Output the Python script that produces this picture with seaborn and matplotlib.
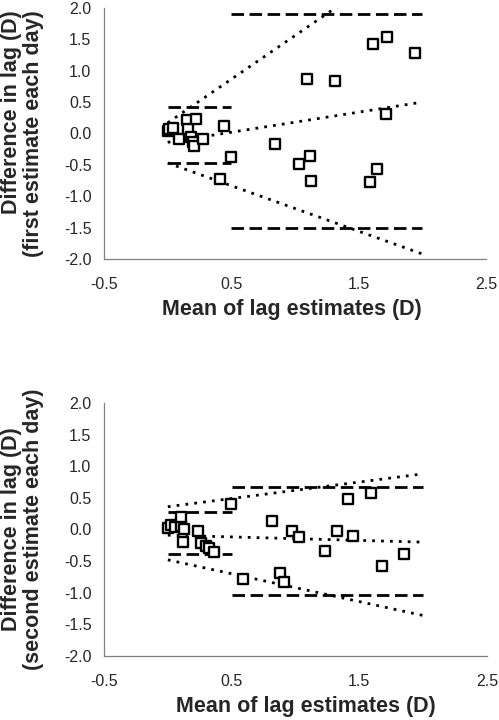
"""
Bland-Altman style plots of lag estimates (first / second estimate each day).
"""

import numpy as np
import pandas as pd
import matplotlib
matplotlib.use("Agg")
import matplotlib.pyplot as plt
import seaborn as sns

# --- data: first estimate each day (top panel) ---
first_mean = [0.005, 0.013, 0.04, 0.091, 0.154, 0.162, 0.181, 0.197, 0.209, 0.223,
              0.275, 0.443, 0.495, 0.415, 0.845, 1.032, 1.092, 1.118, 1.129, 1.312,
              1.59, 1.616, 1.643, 1.711, 1.721, 1.944]
first_diff = [0.035, 0.078, 0.08, -0.08, 0.21, 0.067, -0.056, -0.136, -0.2, 0.238,
              -0.08, 0.12, -0.37, -0.73, -0.173, -0.487, 0.866, -0.354, -0.759, 0.844,
              -0.78, 1.43, -0.573, 0.312, 1.53, 1.276]

# --- data: second estimate each day (bottom panel) ---
second_mean = [0.001, 0.028, 0.054, 0.106, 0.106, 0.127, 0.236, 0.119, 0.263, 0.296,
               0.322, 0.359, 0.492, 0.586, 0.816, 0.881, 0.907, 0.973, 1.025, 1.228,
               1.325, 1.411, 1.448, 1.594, 1.678, 1.847]
second_diff = [0.019, 0.071, 0.045, 0.056, 0.203, 0.003, -0.019, -0.193, -0.209, -0.261,
               -0.298, -0.352, 0.404, -0.79, 0.14, -0.695, -0.827, -0.024, -0.124, -0.34,
               -0.019, 0.483, -0.098, 0.584, -0.573, -0.388]

# regression lines (dotted), evaluated at the ends of the range
line_x = [0.0, 2.0]
first_bias = [-0.14, 0.50]
first_upper = [0.17, 2.95]
first_lower = [-0.47, -1.92]
second_bias = [-0.09, -0.20]
second_upper = [0.36, 0.88]
second_lower = [-0.48, -1.36]

# 95% limits of agreement (dashed), low range and high range
low_x = [0.0, 0.5]
high_x = [0.5, 2.0]
first_low_limits = [0.42, -0.466]
first_high_limits = [1.91, -1.505]
second_low_limits = [0.272, -0.383]
second_high_limits = [0.668, -1.028]

yticks = [-2.0, -1.5, -1.0, -0.5, 0.0, 0.5, 1.0, 1.5, 2.0]
xticks = [-0.5, 0.5, 1.5, 2.5]

sns.set_style("white")
plt.rcParams["font.family"] = ["Liberation Sans", "DejaVu Sans"]
plt.rcParams["axes.unicode_minus"] = False

DASHED = (0, (4.5, 2.0))
DOTTED = (0, (1.0, 2.2))


def draw_panel(ax, mean, diff, bias, upper, lower, low_lim, high_lim, ylabel, ymult, xlab_x):
    for yy in (bias, upper, lower):
        sns.lineplot(x=line_x, y=yy, ax=ax, color="black", linewidth=2.0,
                     linestyle=DOTTED, estimator=None, sort=False)
    for lim in low_lim:
        sns.lineplot(x=low_x, y=[lim, lim], ax=ax, color="black", linewidth=2.0,
                     linestyle=DASHED, estimator=None, sort=False)
    for lim in high_lim:
        sns.lineplot(x=high_x, y=[lim, lim], ax=ax, color="black", linewidth=2.0,
                     linestyle=DASHED, estimator=None, sort=False)

    df = pd.DataFrame({"mean": mean, "diff": diff})
    sns.scatterplot(data=df, x="mean", y="diff", ax=ax, marker="s", s=52,
                    facecolor="white", edgecolor="black", linewidth=1.7, zorder=5)

    ax.set_xlim(-0.5, 2.5)
    ax.set_ylim(-2.0, 2.0)
    ax.set_xticks(xticks)
    ax.set_yticks(yticks)
    ax.set_xticklabels([f"{v:.1f}" for v in xticks])
    ax.set_yticklabels([f"{v:.1f}" for v in yticks])
    ax.tick_params(axis="y", direction="out", length=2.5, width=0.8, color="#808080",
                   pad=6.5, labelsize=11.5)
    ax.tick_params(axis="x", direction="out", length=3, width=0.8, color="#808080",
                   pad=10, labelsize=11.5)
    for side in ("top", "right"):
        ax.spines[side].set_visible(False)
    for side in ("left", "bottom"):
        ax.spines[side].set_color("#808080")
        ax.spines[side].set_linewidth(0.9)

    ax.set_xlabel("Mean of lag estimates (D)", fontsize=15.5, fontweight="bold")
    ax.set_ylabel(ylabel, fontsize=15.5, fontweight="bold", multialignment=ymult,
                  linespacing=1.05)
    ax.yaxis.set_label_coords(-0.157, 0.5)
    ax.xaxis.set_label_coords(xlab_x, -0.158)


fig = plt.figure(figsize=(4.99, 7.2), dpi=100)
ax1 = fig.add_axes([0.2084, 0.6403, 0.7655, 0.3486])
ax2 = fig.add_axes([0.2084, 0.0889, 0.7675, 0.3514])

draw_panel(ax1, first_mean, first_diff, first_bias, first_upper, first_lower,
           first_low_limits, first_high_limits,
           "Difference in lag (D)\n(first estimate each day)", "right", 0.492)
draw_panel(ax2, second_mean, second_diff, second_bias, second_upper, second_lower,
           second_low_limits, second_high_limits,
           "Difference in lag (D)\n(second estimate each day)", "center", 0.527)

fig.savefig("out.png", dpi=100)
